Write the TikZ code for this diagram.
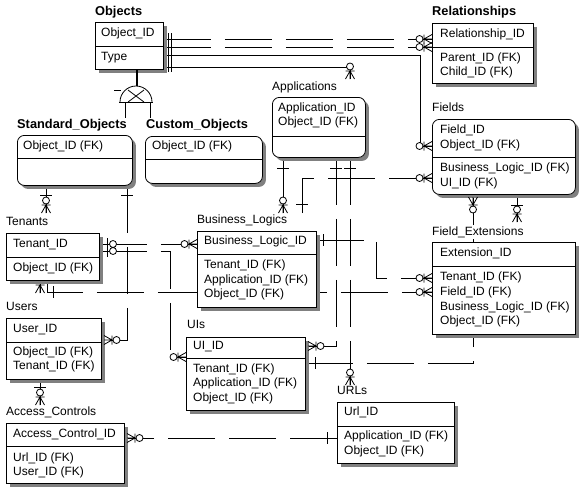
\documentclass[tikz,border=0pt]{standalone}
\usepackage{fontspec}
\setmainfont{Liberation Sans}
\usetikzlibrary{shadows}
\pgfdeclarelayer{bg}
\pgfsetlayers{bg,main}
\begin{document}
\begin{tikzpicture}[x=1pt,y=-1pt,
  font=\fontsize{12}{14}\selectfont,
  ln/.style={line width=0.8pt},
  dl/.style={ln, dash pattern=on 47pt off 14pt},
  ent/.style={draw=black, line width=0.8pt, fill=white, anchor=north west, inner sep=0pt,
    drop shadow={shadow xshift=3.5pt, shadow yshift=-3.5pt, fill=black!50, opacity=1}},
  rent/.style={ent, rounded corners=7pt},
  ttl/.style={anchor=mid west, inner sep=0pt},
  btl/.style={ttl, font=\fontsize{12.8}{14}\selectfont\bfseries},
  fld/.style={anchor=mid west, inner sep=0pt},
  zmany/.pic={\draw[ln] (0,0)--(8,0) (0,-4.5)--(8,0)--(0,4.5) (8,-4.5)--(8,4.5);
              \draw[ln,fill=white] (12.5,0) circle[radius=3.5pt];},
  many/.pic={\draw[ln] (0,0)--(8,0) (0,-4.5)--(8,0)--(0,4.5) (8,-4.5)--(8,4.5);}
]
\useasboundingbox (0,0) rectangle (579,491);

% ---------- entities ----------
% Objects
\node[btl] (objects-t) at (95,13) {Objects};
\node[ent,minimum width=68pt,minimum height=47pt] (objects) at (95,22) {};
\draw[ln] (objects.west |- 0,46) -- (objects.east |- 0,46);
\node[fld] (o1) at (101,34) {Object\_ID};
\node[fld] (o2) at (101,58) {Type};

% Relationships
\node[btl] (rel-t) at (432,13) {Relationships};
\node[ent,minimum width=101pt,minimum height=60pt] (rel) at (432,23) {};
\draw[ln] (rel.west |- 0,47) -- (rel.east |- 0,47);
\node[fld] (r1) at (440,35) {Relationship\_ID};
\node[fld] (r2) at (440,59) {Parent\_ID (FK)};
\node[fld] (r3) at (440,73) {Child\_ID (FK)};

% Standard_Objects
\node[btl] (std-t) at (17,126) {Standard\_Objects};
\node[rent,minimum width=115pt,minimum height=50pt] (std) at (17,135) {};
\draw[ln] (std.west |- 0,158) -- (std.east |- 0,158);
\node[fld] (s1) at (23,147) {Object\_ID (FK)};

% Custom_Objects
\node[btl] (cus-t) at (146,126) {Custom\_Objects};
\node[rent,minimum width=117pt,minimum height=47pt] (cus) at (145,136) {};
\draw[ln] (cus.west |- 0,159) -- (cus.east |- 0,159);
\node[fld] (c1) at (152,147) {Object\_ID (FK)};

% Applications
\node[ttl] (apps-t) at (272,88) {Applications};
\node[rent,minimum width=93pt,minimum height=60pt] (apps) at (272,97) {};
\draw[ln] (apps.west |- 0,136) -- (apps.east |- 0,136);
\node[fld] (a1) at (278,109) {Application\_ID};
\node[fld] (a2) at (278,123) {Object\_ID (FK)};

% Fields
\node[ttl] (fields-t) at (432,109) {Fields};
\node[rent,minimum width=143pt,minimum height=75pt] (fields) at (432,119) {};
\draw[ln] (fields.west |- 0,157) -- (fields.east |- 0,157);
\node[fld] (f1) at (440,131) {Field\_ID};
\node[fld] (f2) at (440,146) {Object\_ID (FK)};
\node[fld] (f3) at (440,169) {Business\_Logic\_ID (FK)};
\node[fld] (f4) at (440,184) {UI\_ID (FK)};

% Tenants
\node[ttl] (ten-t) at (6,223) {Tenants};
\node[ent,minimum width=93pt,minimum height=47pt] (ten) at (6,233) {};
\draw[ln] (ten.west |- 0,257) -- (ten.east |- 0,257);
\node[fld] (t1) at (13,245) {Tenant\_ID};
\node[fld] (t2) at (13,269) {Object\_ID (FK)};

% Business_Logics
\node[ttl] (bl-t) at (197,221) {Business\_Logics};
\node[ent,minimum width=119pt,minimum height=76pt] (bl) at (197,231) {};
\draw[ln] (bl.west |- 0,254) -- (bl.east |- 0,254);
\node[fld] (b1) at (204,242) {Business\_Logic\_ID};
\node[fld] (b2) at (204,266) {Tenant\_ID (FK)};
\node[fld] (b3) at (204,281) {Application\_ID (FK)};
\node[fld] (b4) at (204,295) {Object\_ID (FK)};

% Field_Extensions
\node[ttl] (fe-t) at (432,233) {Field\_Extensions};
\node[ent,minimum width=143pt,minimum height=92pt] (fe) at (432,242) {};
\draw[ln] (fe.west |- 0,266) -- (fe.east |- 0,266);
\node[fld] (e1) at (440,254) {Extension\_ID};
\node[fld] (e2) at (440,278) {Tenant\_ID (FK)};
\node[fld] (e3) at (440,293) {Field\_ID (FK)};
\node[fld] (e4) at (440,308) {Business\_Logic\_ID (FK)};
\node[fld] (e5) at (440,322) {Object\_ID (FK)};

% Users
\node[ttl] (usr-t) at (6,308) {Users};
\node[ent,minimum width=95pt,minimum height=61pt] (usr) at (6,318) {};
\draw[ln] (usr.west |- 0,342) -- (usr.east |- 0,342);
\node[fld] (u1) at (13,330) {User\_ID};
\node[fld] (u2) at (13,353) {Object\_ID (FK)};
\node[fld] (u3) at (13,367) {Tenant\_ID (FK)};

% UIs
\node[ttl] (uis-t) at (187,326) {UIs};
\node[ent,minimum width=119pt,minimum height=73pt] (uis) at (186,337) {};
\draw[ln] (uis.west |- 0,358) -- (uis.east |- 0,358);
\node[fld] (i1) at (193,347) {UI\_ID};
\node[fld] (i2) at (193,370) {Tenant\_ID (FK)};
\node[fld] (i3) at (193,384) {Application\_ID (FK)};
\node[fld] (i4) at (193,399) {Object\_ID (FK)};

% Access_Controls
\node[ttl] (ac-t) at (6,413) {Access\_Controls};
\node[ent,minimum width=118pt,minimum height=60pt] (ac) at (6,423) {};
\draw[ln] (ac.west |- 0,446) -- (ac.east |- 0,446);
\node[fld] (x1) at (13,435) {Access\_Control\_ID};
\node[fld] (x2) at (13,459) {Url\_ID (FK)};
\node[fld] (x3) at (13,473) {User\_ID (FK)};

% URLs
\node[ttl] (url-t) at (337,392) {URLs};
\node[ent,minimum width=117pt,minimum height=61pt] (url) at (337,402) {};
\draw[ln] (url.west |- 0,426) -- (url.east |- 0,426);
\node[fld] (l1) at (344,413) {Url\_ID};
\node[fld] (l2) at (344,437) {Application\_ID (FK)};
\node[fld] (l3) at (344,452) {Object\_ID (FK)};

% ---------- category symbol ----------
\draw[line width=1.3pt] (objects.south -| 137,0) -- (137,86);
\draw[ln] (120,102) arc[start angle=180, end angle=0, radius=16pt];
\draw[ln] (119,102) -- (153,102);
\draw[ln] (128,90) -- (144,102) (144,90) -- (128,102);
\draw[ln] (114,90) -- (121,90);
\draw[ln] (125,102) -- (125,118) (150,102) -- (150,118);

% ---------- connectors ----------
\begin{pgfonlayer}{bg}
% Objects -> Relationships (Parent, Child)
\draw[dl] (objects.east |- 0,39) -- (rel.west |- 0,39);
\draw[dl] (objects.east |- 0,47) -- (rel.west |- 0,47);
% Objects -> Fields
\draw[ln] (objects.east |- 0,55) -- (420,55) -- (420,146) -- (fields.west |- 0,146);
% Objects -> Applications
\draw[ln] (objects.east |- 0,67) -- (350,67) -- (350,79);
% Standard_Objects -> Tenants
\draw[ln] (std.south -| 46,0) -- (46,213);
% Standard_Objects -> Users
\draw[dl] (std.south -| 127,0) -- (127,340) -- (usr.east |- 0,340);
% Tenants -> Business_Logics
\draw[dl] (ten.east |- 0,244) -- (bl.west |- 0,244);
% Tenants -> UIs
\draw[dl] (ten.east |- 0,251) -- (170,251) -- (170,357) -- (uis.west |- 0,357);
% Tenants -> Users
\draw[ln] (ten.south -| 40,0) -- (40,293);
% Tenants -> Field_Extensions
\draw[dl] (ten.south -| 47,0) -- (47,292) -- (fe.west |- 0,292);
% Applications -> Business_Logics
\draw[ln] (apps.south -| 283,0) -- (283,213);
% Applications -> UIs
\draw[dl] (apps.south -| 336,0) -- (336,346) -- (uis.east |- 0,346);
% Applications -> URLs
\draw[dl] (apps.south -| 350,0) -- (350,385);
% Business_Logics -> Fields
\draw[dl] (302,213) -- (302,178) -- (fields.west |- 0,178);
% Business_Logics -> Field_Extensions
\draw[dl] (bl.east |- 0,240) -- (376,240) -- (376,278) -- (fe.west |- 0,278);
% UIs -> Fields
\draw[dl] (uis.east |- 0,363) -- (473,363) -- (fields.south -| 473,0);
% Fields -> Field_Extensions
\draw[ln] (fields.south -| 517,0) -- (517,222);
% Users -> Access_Controls
\draw[ln] (usr.south -| 40,0) -- (40,405);
% URLs -> Access_Controls
\draw[dl] (url.west |- 0,438) -- (ac.east |- 0,438);
\end{pgfonlayer}

% ---------- cardinality marks ----------
% "one" bars
\draw[ln] (168,33) -- (168,72) (171,33) -- (171,72);
\draw[ln] (40,195) -- (52,195) (121,195) -- (133,195);
\draw[ln] (107,238) -- (107,257);
\draw[ln,fill=white] (113,244) circle[radius=3.5pt] (113,251) circle[radius=3.5pt];
\draw[ln] (53,286) -- (53,298);
\draw[ln] (277,168) -- (289,168) (330,168) -- (342,168) (344,168) -- (356,168);
\draw[ln] (296,204) -- (308,204);
\draw[ln] (323,234) -- (323,246);
\draw[ln] (315,357) -- (315,369);
\draw[ln] (511,205) -- (523,205);
\draw[ln] (34,387) -- (46,387);
\draw[ln] (327,432) -- (327,444);
% "many" ends
\pic[rotate=180] at (rel.west |- 0,39) {zmany};
\pic[rotate=180] at (rel.west |- 0,47) {zmany};
\pic[rotate=180] at (fields.west |- 0,146) {zmany};
\pic[rotate=90] at (350,79) {zmany};
\pic[rotate=90] at (46,213) {zmany};
\pic at (104,340) {zmany};
\pic[rotate=180] at (bl.west |- 0,244) {zmany};
\pic[rotate=180] at (uis.west |- 0,357) {zmany};
\pic[rotate=90] at (40,293) {many};
\pic[rotate=180] at (fe.west |- 0,292) {zmany};
\pic[rotate=90] at (283,213) {zmany};
\pic at (308,346) {zmany};
\pic[rotate=90] at (350,385) {zmany};
\pic[rotate=180] at (fields.west |- 0,178) {zmany};
\pic[rotate=180] at (fe.west |- 0,278) {zmany};
\pic[rotate=-90] at (473,197) {zmany};
\pic[rotate=90] at (517,222) {zmany};
\pic[rotate=90] at (40,405) {zmany};
\pic at (127,438) {zmany};
\end{tikzpicture}
\end{document}
